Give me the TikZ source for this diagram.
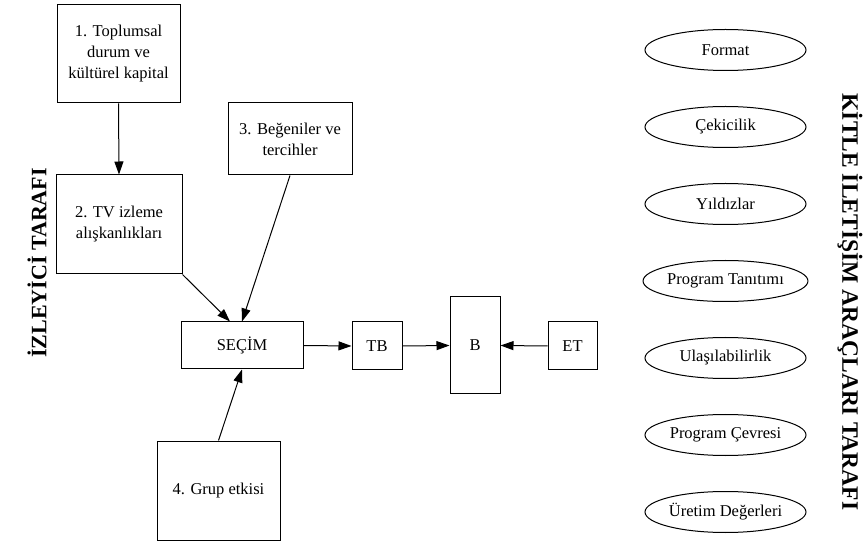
\documentclass[tikz,border=0pt]{standalone}
\usepackage{fontspec}
\setmainfont{Liberation Serif}
\usetikzlibrary{arrows.meta,shapes.geometric}
\begin{document}
\begin{tikzpicture}[x=1pt,y=-1pt,
  every node/.style={font=\fontsize{16.5}{21}\selectfont, inner sep=0pt, align=center},
  box/.style={draw, line width=1pt, rectangle},
  oval/.style={draw, line width=1pt, ellipse, minimum width=161pt, minimum height=41pt},
  conn/.style={line width=1pt, -{Triangle[length=13pt,width=9pt]}},
  side/.style={font=\bfseries\fontsize{22}{26}\selectfont}
]
\useasboundingbox (0,0) rectangle (868,545);

\node[box, minimum width=123pt, minimum height=98pt] (b1) at (118.5,54) {1. Toplumsal\\durum ve\\kültürel kapital};
\node[box, minimum width=126pt, minimum height=99pt] (b2) at (119,224.5) {2. TV izleme\\alışkanlıkları};
\node[box, minimum width=124pt, minimum height=72pt] (b3) at (290,139) {3. Beğeniler ve\\tercihler};
\node[box, minimum width=122pt, minimum height=47pt] (secim) at (242,345.5) {SEÇİM};
\node[box, minimum width=50pt, minimum height=48pt] (tb) at (377,346) {TB};
\node[box, minimum width=50pt, minimum height=97pt] (bb) at (475,345.5) {B};
\node[box, minimum width=49pt, minimum height=48pt] (et) at (572.5,346) {ET};
\node[box, minimum width=123pt, minimum height=99pt] (b4) at (218.5,490.5) {4. Grup etkisi};

\draw[conn] (b1.south) -- (b2.north);
\draw[conn] (b2.south east) -- ([xshift=-12pt]secim.north);
\draw[conn] (b3.south) -- (secim.north);
\draw[conn] (b4.north) -- (secim.south);
\draw[conn] (secim.east) -- (tb.west);
\draw[conn] (tb.east) -- (bb.west);
\draw[conn] (et.west) -- (bb.east);

\node[oval] (e1) at (725.5,50) {Format};
\node[oval] (e2) at (725.5,127) {Çekicilik};
\node[oval] (e3) at (725.5,204) {Yıldızlar};
\node[oval] (e4) at (725.5,281) {Program Tanıtımı};
\node[oval] (e5) at (725.5,358) {Ulaşılabilirlik};
\node[oval] (e6) at (725.5,435) {Program Çevresi};
\node[oval] (e7) at (725.5,512) {Üretim Değerleri};

\node[side, rotate=90] (left) at (37,263) {İZLEYİCİ TARAFI};
\node[side, rotate=-90, font=\bfseries\fontsize{23.5}{28}\selectfont] (right) at (850,302) {KİTLE İLETİŞİM ARAÇLARI TARAFI};
\end{tikzpicture}
\end{document}
